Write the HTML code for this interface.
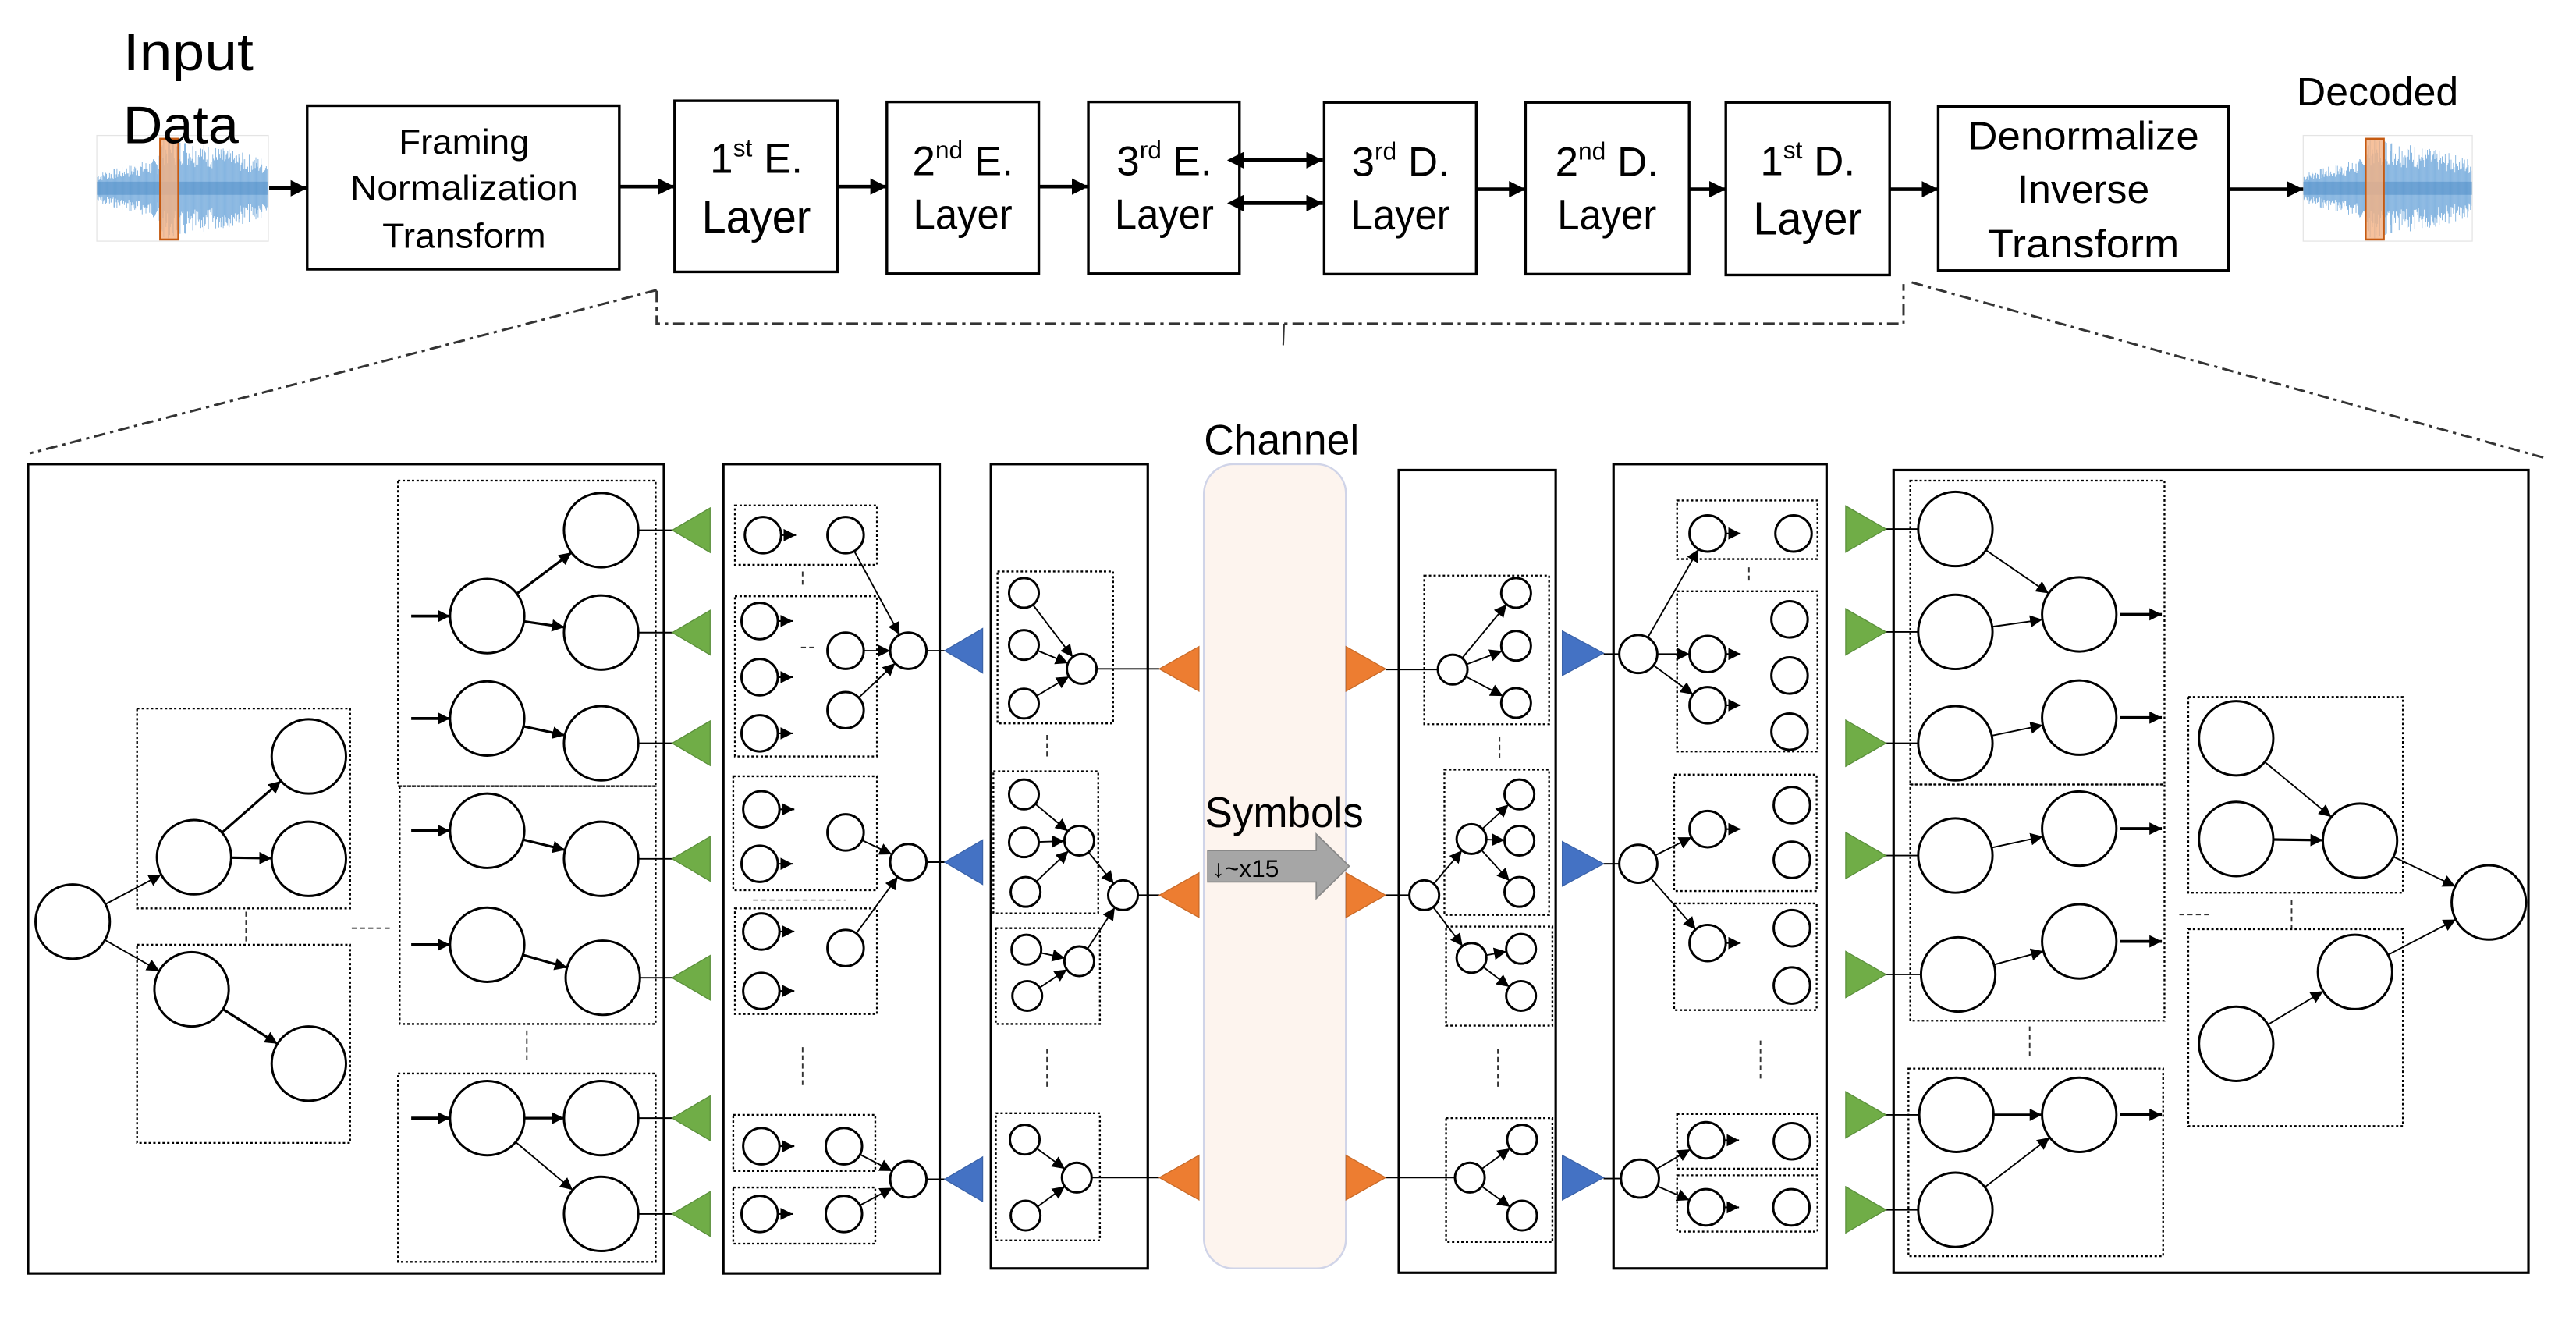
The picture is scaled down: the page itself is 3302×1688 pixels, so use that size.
<!DOCTYPE html>
<html><head><meta charset="utf-8"><style>
html,body{margin:0;padding:0;background:#fff;}
svg{display:block;}
text{font-family:"Liberation Sans",sans-serif;fill:#000;}
</style></head><body>
<svg id="svg" width="3302" height="1688" viewBox="0 0 1559.8 797.4" preserveAspectRatio="none" xmlns="http://www.w3.org/2000/svg">
<defs>
<marker id="ah" viewBox="0 0 10 10" refX="10" refY="5" markerWidth="7.5" markerHeight="7.5" markerUnits="userSpaceOnUse" orient="auto"><path d="M0,0 L10,5 L0,10z" fill="#000"/></marker>
<marker id="ab" viewBox="0 0 10 10" refX="10" refY="5" markerWidth="10" markerHeight="10" markerUnits="userSpaceOnUse" orient="auto"><path d="M0,0 L10,5 L0,10z" fill="#000"/></marker>
<marker id="abs" viewBox="0 0 10 10" refX="0" refY="5" markerWidth="10" markerHeight="10" markerUnits="userSpaceOnUse" orient="auto-start-reverse"><path d="M0,0 L10,5 L0,10z" fill="#000"/></marker>
</defs>
<rect x="0" y="0" width="1559.8" height="797.4" fill="#fff"/>

<g id="wave1"></g>
<g id="wave2"></g>

<!-- top row text -->
<text x="74.5" y="42.5" font-size="32" textLength="79" lengthAdjust="spacingAndGlyphs">Input</text>
<text x="74.5" y="86.6" font-size="32" textLength="70" lengthAdjust="spacingAndGlyphs">Data</text>

<g fill="#fff" stroke="#000" stroke-width="1.6">
<rect x="186" y="64" width="189" height="99"/>
<rect x="408.5" y="61" width="98.5" height="103.6"/>
<rect x="537" y="61.7" width="92" height="104"/>
<rect x="659" y="61.7" width="91.5" height="104"/>
<rect x="801.8" y="62" width="92.1" height="104"/>
<rect x="923.7" y="62" width="99.1" height="104"/>
<rect x="1045" y="62" width="99.2" height="104.5"/>
<rect x="1173.6" y="64.4" width="175.7" height="99.4"/>
</g>

<g font-size="21" text-anchor="middle">
<text x="281" y="93" textLength="79" lengthAdjust="spacingAndGlyphs">Framing</text>
<text x="281" y="121" textLength="138" lengthAdjust="spacingAndGlyphs">Normalization</text>
<text x="281" y="150" textLength="99" lengthAdjust="spacingAndGlyphs">Transform</text>
</g>
<g font-size="24" text-anchor="middle">
<text x="1261.5" y="90.5" textLength="140" lengthAdjust="spacingAndGlyphs">Denormalize</text>
<text x="1261.5" y="122.8" textLength="80" lengthAdjust="spacingAndGlyphs">Inverse</text>
<text x="1261.5" y="155.9" textLength="116" lengthAdjust="spacingAndGlyphs">Transform</text>
</g>
<text x="1390.6" y="63.8" font-size="24" textLength="98" lengthAdjust="spacingAndGlyphs">Decoded</text>

<g font-size="25" text-anchor="middle">
<text x="458" y="104.7">1<tspan font-size="15" dy="-10">st</tspan><tspan dy="10"> E.</tspan></text>
<text x="458" y="141" font-size="28" textLength="66" lengthAdjust="spacingAndGlyphs">Layer</text>
<text x="583" y="106">2<tspan font-size="15" dy="-10">nd</tspan><tspan dy="10"> E.</tspan></text>
<text x="583" y="138.6" font-size="26" textLength="60" lengthAdjust="spacingAndGlyphs">Layer</text>
<text x="705" y="106">3<tspan font-size="15" dy="-10">rd</tspan><tspan dy="10"> E.</tspan></text>
<text x="705" y="138.6" font-size="26" textLength="60" lengthAdjust="spacingAndGlyphs">Layer</text>
<text x="848" y="106.5">3<tspan font-size="15" dy="-10">rd</tspan><tspan dy="10"> D.</tspan></text>
<text x="848" y="139" font-size="26" textLength="60" lengthAdjust="spacingAndGlyphs">Layer</text>
<text x="973" y="106.5">2<tspan font-size="15" dy="-10">nd</tspan><tspan dy="10"> D.</tspan></text>
<text x="973" y="139" font-size="26" textLength="60" lengthAdjust="spacingAndGlyphs">Layer</text>
<text x="1094.6" y="106">1<tspan font-size="15" dy="-10">st</tspan><tspan dy="10"> D.</tspan></text>
<text x="1094.6" y="142" font-size="28" textLength="66" lengthAdjust="spacingAndGlyphs">Layer</text>
</g>

<!-- top arrows -->
<g stroke="#000" stroke-width="2.2" marker-end="url(#ab)">
<line x1="163" y1="114" x2="186" y2="114"/>
<line x1="375" y1="113" x2="408.5" y2="113"/>
<line x1="507" y1="113" x2="537" y2="113"/>
<line x1="629" y1="113" x2="659" y2="113"/>
<line x1="894" y1="114.6" x2="923.7" y2="114.6"/>
<line x1="1022.8" y1="114.6" x2="1045" y2="114.6"/>
<line x1="1144.2" y1="114.6" x2="1173.6" y2="114.6"/>
<line x1="1349.3" y1="114.6" x2="1394.6" y2="114.6"/>
</g>
<g stroke="#000" stroke-width="2.2" marker-end="url(#ab)" marker-start="url(#abs)">
<line x1="753" y1="97" x2="801" y2="97"/>
<line x1="753" y1="123" x2="801" y2="123"/>
</g>

<!-- bracket -->
<g stroke="#333" stroke-width="1.4" fill="none" stroke-dasharray="7 3 2 3">
<path d="M397.6,176 L397.6,196 L1152.6,196 L1152.6,172"/>
<line x1="397.6" y1="175.6" x2="18" y2="274.5"/>
<line x1="1157.6" y1="171" x2="1540" y2="277"/>
</g>
<line x1="777.5" y1="196" x2="777" y2="209" stroke="#333" stroke-width="1"/>

<!-- bottom frames -->
<g fill="none" stroke="#000" stroke-width="1.5">
<rect x="17" y="281" width="385" height="490"/>
<rect x="438" y="281" width="131" height="490"/>
<rect x="600" y="281" width="95" height="487"/>
<rect x="847" y="284.6" width="95" height="486"/>
<rect x="977" y="281" width="129" height="487"/>
<rect x="1146.6" y="284.6" width="384.4" height="486"/>
</g>
<rect x="729" y="281" width="86" height="487" rx="18" fill="#fdf4ee" stroke="#d0d4e8" stroke-width="1.2"/>
<text x="729" y="275.2" font-size="26" textLength="94" lengthAdjust="spacingAndGlyphs" fill="#111">Channel</text>

<!-- dotted boxes -->
<g fill="none" stroke="#000" stroke-width="1.1" stroke-dasharray="1.4 1.4">
<rect x="83" y="429" width="129" height="121"/>
<rect x="83" y="572" width="129" height="120"/>
<rect x="241" y="291" width="156" height="185"/>
<rect x="242" y="476" width="155" height="144"/>
<rect x="241" y="650" width="156" height="114"/>
<rect x="445" y="306" width="86" height="36"/>
<rect x="445" y="361" width="86" height="97"/>
<rect x="444" y="470" width="87" height="69"/>
<rect x="445" y="550" width="86" height="64"/>
<rect x="444" y="675" width="86" height="34"/>
<rect x="444" y="719" width="86" height="34"/>
<rect x="604" y="346" width="70" height="92"/>
<rect x="601.5" y="467" width="63.5" height="86"/>
<rect x="603" y="562" width="63" height="58"/>
<rect x="603" y="674" width="63" height="77"/>
<rect x="862.4" y="348.5" width="75.6" height="90"/>
<rect x="874.6" y="466" width="63.4" height="88"/>
<rect x="875.6" y="561" width="64.4" height="60"/>
<rect x="875.6" y="677" width="64.4" height="75"/>
<rect x="1015.5" y="303" width="85" height="35.5"/>
<rect x="1015.5" y="358" width="85" height="97"/>
<rect x="1013.7" y="469" width="86.3" height="70.5"/>
<rect x="1013.7" y="547" width="86.3" height="64.6"/>
<rect x="1015.5" y="674.5" width="85" height="33.1"/>
<rect x="1015.5" y="711.6" width="85" height="34.1"/>
<rect x="1156.7" y="291" width="153.9" height="184"/>
<rect x="1156.7" y="475" width="153.9" height="143"/>
<rect x="1155.6" y="647" width="154.2" height="113.6"/>
<rect x="1325" y="422" width="130" height="118.5"/>
<rect x="1325" y="562.6" width="130" height="119.2"/>
</g>
<g stroke="#333" stroke-width="0.9" stroke-dasharray="3 2" fill="none">
<line x1="149" y1="552" x2="149" y2="572"/>
<line x1="213" y1="562" x2="236" y2="562"/>
<line x1="319" y1="624" x2="319" y2="644"/>
<line x1="486" y1="346" x2="486" y2="356"/>
<line x1="485" y1="392" x2="495" y2="392"/>
<line x1="456" y1="545" x2="512" y2="545" stroke="#999"/>
<line x1="486" y1="634" x2="486" y2="659"/>
<line x1="634" y1="445" x2="634" y2="459"/>
<line x1="634" y1="635" x2="634" y2="658"/>
<line x1="908" y1="446" x2="908" y2="461"/>
<line x1="907" y1="635" x2="907" y2="658"/>
<line x1="1059" y1="343.5" x2="1059" y2="353.5"/>
<line x1="1066" y1="630" x2="1066" y2="655"/>
<line x1="1229" y1="621.5" x2="1229" y2="641"/>
<line x1="1319.6" y1="553.7" x2="1339.5" y2="553.7"/>
<line x1="1387.6" y1="545" x2="1387.6" y2="562"/>
</g>

<g id="g"></g>

<!-- Symbols arrow -->
<text x="729.6" y="500.7" font-size="26" textLength="96" lengthAdjust="spacingAndGlyphs" fill="#333">Symbols</text>
<path d="M731.3,515 L797,515 L797,505 L817,524.5 L797,544 L797,534 L731.3,534 Z" fill="#a6a6a6" stroke="#888" stroke-width="0.8"/>
<text x="734" y="531" font-size="15" fill="#111">↓~x15</text>

<script>
(function(){
var NS='http://www.w3.org/2000/svg';
var G=document.getElementById('g');
function el(t,a,p){var e=document.createElementNS(NS,t);for(var k in a)e.setAttribute(k,a[k]);(p||G).appendChild(e);return e;}
var lines=[],circs=[];
function C(x,y,r){circs.push([x,y,r]);return {x:x,y:y,r:r};}
function P(x,y){return {x:x,y:y,r:0};}
function E(a,b,m,w){var dx=b.x-a.x,dy=b.y-a.y,d=Math.hypot(dx,dy),ux=dx/d,uy=dy/d;
 var at={x1:a.x+ux*a.r,y1:a.y+uy*a.r,x2:b.x-ux*b.r,y2:b.y-uy*b.r,stroke:'#000','stroke-width':w||1};
 if(m)at['marker-end']='url(#ah)';lines.push(at);}
function stub(c){lines.push({x1:c.x+c.r,y1:c.y,x2:c.x+c.r+9,y2:c.y,stroke:'#000','stroke-width':1,'marker-end':'url(#ah)'});}
function tri(pts,fill,stroke){el('polygon',{points:pts,fill:fill,stroke:stroke,'stroke-width':0.6});}
var GR='#70ad47',GS='#5a8f3b',BL='#4472c4',BS='#3a62a8',OR='#ed7d31',OS='#c86a28';
function triL(x,y,w,h,f,s){tri(x+','+y+' '+(x+w)+','+(y-h/2)+' '+(x+w)+','+(y+h/2),f,s);}
function triR(x,y,w,h,f,s){tri(x+','+(y-h/2)+' '+x+','+(y+h/2)+' '+(x+w)+','+y,f,s);}
var R=22.5;
var root=C(44,558,R),a1=C(117.5,519,R),a2=C(187,458,R),a3=C(187,520,R),a4=C(116,599,R),a5=C(187,644,R);
E(root,a1,1,0.9);E(root,a4,1,0.9);E(a1,a2,1,1.5);E(a1,a3,1,1.5);E(a4,a5,1,1.5);
var g1=C(295,373,R),g2=C(364,321,R),g3=C(364,383,R),g4=C(295,435,R),g5=C(364,450,R),
g6=C(295,503,R),g7=C(364,520,R),g8=C(295,572,R),g9=C(365,592,R),g10=C(295,677,R),g11=C(364,677,R),g12=C(364,735,R);
[[g1,g2],[g1,g3],[g4,g5],[g6,g7],[g8,g9],[g10,g11]].forEach(function(p){E(p[0],p[1],1,1.5);});
E(g10,g12,1,0.9);
[373,435,503,572,677].forEach(function(y){E(P(249,y),P(272.5,y),1,1.8);});
[g2,g3,g5,g7,g9,g11,g12].forEach(function(c){lines.push({x1:c.x+c.r,y1:c.y,x2:407,y2:c.y,stroke:'#000','stroke-width':0.9});});
var r=11;
var b1=C(462,324,r),b2=C(512,324,r),b3=C(460,376,r),b4=C(460,410,r),b5=C(460,444,r),b6=C(512,394,r),b7=C(512,430,r),bc1=C(550,394,r);
var b8=C(461,490,r),b9=C(460,523,r),b10=C(512,504,r),b11=C(461,564,r),b12=C(461,600,r),b13=C(512,574,r),bc2=C(550,522,r);
var b14=C(461,694,r),b15=C(511,694,r),b16=C(460,735,r),b17=C(511,735,r),bc3=C(550,714,r);
[b1,b3,b4,b5,b8,b9,b11,b12,b14,b16].forEach(stub);
E(b2,bc1,1,0.9);E(b6,bc1,1,0.9);E(b7,bc1,1,0.9);E(b10,bc2,1,0.9);E(b13,bc2,1,0.9);E(b15,bc3,1,0.9);E(b17,bc3,1,0.9);
[bc1,bc2,bc3].forEach(function(c){lines.push({x1:c.x+c.r,y1:c.y,x2:572,y2:c.y,stroke:'#000','stroke-width':0.9});});
r=9;
var c1=C(620,359,r),c2=C(620,390.5,r),c3=C(620,426,r),ct1=C(655,405,r);
var c4=C(620,481,r),c5=C(620,510,r),c6=C(621,540,r),ct2=C(653.5,509,r);
var c7=C(621.5,575,r),c8=C(622,603,r),ct3=C(653.5,582,r),cc=C(680,542,r);
var c9=C(620.5,690,r),c10=C(621,736,r),ct4=C(652,713,r);
[[c1,ct1],[c2,ct1],[c3,ct1],[c4,ct2],[c5,ct2],[c6,ct2],[c7,ct3],[c8,ct3],[ct2,cc],[ct3,cc],[c9,ct4],[c10,ct4]].forEach(function(p){E(p[0],p[1],1,0.9);});
[ct1,cc,ct4].forEach(function(c){lines.push({x1:c.x+c.r,y1:c.y,x2:702,y2:c.y,stroke:'#000','stroke-width':0.9});});
var d1=C(879.6,405.4,r),d2=C(918,359,r),d3=C(918,391,r),d4=C(918,425.6,r);
var dm=C(862.4,542,r),d5=C(891,508,r),d6=C(920,481,r),d7=C(920,509,r),d8=C(920,540,r);
var d9=C(891,580,r),d10=C(921,574.5,r),d11=C(921,603,r);
var d12=C(890,713,r),d13=C(921.6,690,r),d14=C(921.6,736,r);
[[d1,d2],[d1,d3],[d1,d4],[dm,d5],[dm,d9],[d5,d6],[d5,d7],[d5,d8],[d9,d10],[d9,d11],[d12,d13],[d12,d14]].forEach(function(p){E(p[0],p[1],1,0.9);});
[d1,dm,d12].forEach(function(c){lines.push({x1:839,y1:c.y,x2:c.x-c.r,y2:c.y,stroke:'#000','stroke-width':0.9});});
r=11;
var e1=C(992,396,11.5),e2=C(992,523,11.5),e3=C(993,713.6,11.5);
var f1=C(1034,323,r),f2=C(1086,323,r),f3=C(1034,396,r),f4=C(1034,427,r),f5=C(1083.6,375,r),f6=C(1083.6,409,r),f7=C(1083.6,443,r);
var f8=C(1034,502,r),f9=C(1085,487.5,r),f10=C(1085,520.6,r),f11=C(1034,571,r),f12=C(1085,562,r),f13=C(1085,596.7,r);
var f14=C(1033,690.4,r),f15=C(1085,691,r),f16=C(1033,731,r),f17=C(1084.7,731,r);
[f1,f3,f4,f8,f11,f14,f16].forEach(stub);
[[e1,f1],[e1,f3],[e1,f4],[e2,f8],[e2,f11],[e3,f14],[e3,f16]].forEach(function(p){E(p[0],p[1],1,0.9);});
[e1,e2,e3].forEach(function(c){lines.push({x1:971,y1:c.y,x2:c.x-c.r,y2:c.y,stroke:'#000','stroke-width':0.9});});
R=22.5;
var h1=C(1184,320.3,R),h2=C(1184,382.6,R),h3=C(1259,372,R),h4=C(1184,450,R),h5=C(1259,434.5,R),
h6=C(1184,518,R),h7=C(1259,501.7,R),h8=C(1185.7,590,R),h9=C(1259,570,R),h10=C(1184.6,675,R),h11=C(1259,675,R),h12=C(1184,732.5,R);
var k1=C(1354,447,R),k2=C(1354,508,R),k3=C(1429,509,R),k4=C(1426,588.5,R),k5=C(1354,632,R),fin=C(1507,546.4,R);
[[h1,h3],[h2,h3],[h4,h5],[h6,h7],[h8,h9],[h12,h11],[k1,k3],[k5,k4],[k3,fin],[k4,fin]].forEach(function(p){E(p[0],p[1],1,0.9);});
E(h10,h11,1,1.5);E(k2,k3,1,1.5);
[h3,h5,h7,h9,h11].forEach(function(c){E(P(c.x+c.r+2,c.y),P(1309,c.y),1,1.8);});
[h1,h2,h4,h6,h8,h10,h12].forEach(function(c){lines.push({x1:1142,y1:c.y,x2:c.x-c.r,y2:c.y,stroke:'#000','stroke-width':0.9});});
lines.forEach(function(a){el('line',a);});
circs.forEach(function(c){el('circle',{cx:c[0],cy:c[1],r:c[2],fill:'#fff',stroke:'#000','stroke-width':1.4});});
[321,383,450,520,592,677,735].forEach(function(y){triL(407,y,23,27,GR,GS);});
[394,522,714].forEach(function(y){triL(572,y,23,27,BL,BS);});
[405,542,713].forEach(function(y){triL(702,y,24,27,OR,OS);triR(815,y,24,27,OR,OS);});
[395.5,523,713].forEach(function(y){triR(946,y,25,27,BL,BS);});
[320.3,382.6,450,518,590,675,732.5].forEach(function(y){triR(1117.6,y,24.4,28,GR,GS);});
function wave(id,x0,x1,y0,y1,ox0,ox1){var W=document.getElementById(id);
 el('rect',{x:x0,y:y0,width:x1-x0,height:y1-y0,fill:'#fff',stroke:'#e4e4e4','stroke-width':0.6},W);
 var cy=(y0+y1)/2,h=(y1-y0)/2-1,s=7;
 for(var x=x0+0.5;x<=x1-0.5;x+=0.45){var t=(x-x0)/(x1-x0);
  var env=t<0.36?(0.3+0.3*t/0.36):(t<0.5?0.98:0.98-0.4*(t-0.5)/0.5);
  s=(s*9301+49297)%233280;var rr=s/233280;var a=h*env*(0.45+0.55*rr);
  el('line',{x1:x,y1:cy-a,x2:x,y2:cy+a,stroke:'#5b9bd5','stroke-width':0.45,'stroke-opacity':0.75},W);}
 el('rect',{x:x0,y:cy-4,width:x1-x0,height:8,fill:'#2e75b6','fill-opacity':0.35},W);
 el('rect',{x:ox0,y:y0+2,width:ox1-ox0,height:y1-y0-3,fill:'#f4b183','fill-opacity':0.8,stroke:'#c55a11','stroke-width':1.2},W);}
wave('wave1',58.6,162.5,82,146,97,108);
wave('wave2',1394.6,1497,82,146,1432.4,1443.4);
})();
</script>
</svg>
</body></html>
